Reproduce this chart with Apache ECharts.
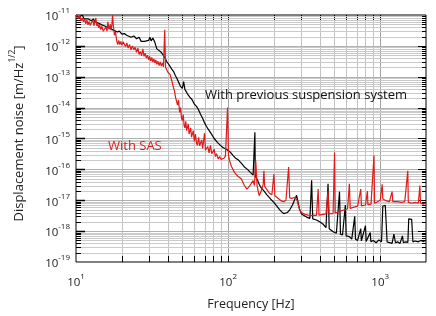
<!DOCTYPE html>
<html>
<head>
<meta charset="utf-8">
<script src="https://cdn.jsdelivr.net/npm/echarts@6/dist/echarts.min.js"></script>
<style>html,body{margin:0;padding:0;background:#fff}#c{width:436px;height:316px}</style>
</head>
<body>
<div id="c"></div>
<script>
// ---- data ----
const xDecades = [10, 100, 1000];
const yDecades = [1e-19, 1e-18, 1e-17, 1e-16, 1e-15, 1e-14, 1e-13, 1e-12, 1e-11];
const minorMult = [2, 3, 4, 5, 6, 7, 8, 9];
const xMin = 10, xMax = 2000, yMin = 1e-19, yMax = 1e-11;

const previousSuspension = [
[10,1e-11],[10.3,8.5e-12],[10.6,9.5e-12],[11,1e-11],[11.3,7.5e-12],[11.6,8.5e-12],[12,7.5e-12],[12.3,8.5e-12],[12.6,6.5e-12],[13,7.5e-12],[13.3,6e-12],[13.6,6.8e-12],[14,5.5e-12],[14.4,6e-12],[14.8,4.8e-12],[15.2,5.4e-12],[15.6,4.3e-12],[16,4.8e-12],[16.5,3.8e-12],[17,4.2e-12],[17.5,3.3e-12],[18,3.5e-12],[18.7,2.8e-12],[19.3,3e-12],[20,2.4e-12],[20.8,2.5e-12],[21.5,2.2e-12],[22,2.4e-12],[23,1.9e-12],[24,2.1e-12],[25,1.7e-12],[26,1.9e-12],[26.8,1.4e-12],[27.5,1.6e-12],[28.2,1.4e-12],[29,1.6e-12],[30,1.5e-12],[30.6,1.9e-12],[31.2,1.45e-12],[32,1.8e-12],[33,1.3e-12],[34,8e-13],[35,9e-13],[36,6.5e-13],[37,5.5e-13],[38,4.5e-13],[39.5,3.1e-13],[41,2.4e-13],[42.5,1.8e-13],[43.7,1.5e-13],[45,1.1e-13],[46.5,8e-14],[48.5,5e-14],[50,4.2e-14],[51,7e-14],[52,3.9e-14],[54,2.8e-14],[56,2.2e-14],[58,1.8e-14],[60,1.3e-14],[62,1.1e-14],[63.5,9e-15],[66,6e-15],[68,4.5e-15],[70,3.2e-15],[72,2.5e-15],[74,2e-15],[77,1.5e-15],[81,1e-15],[85,7.5e-16],[89,6e-16],[93,5e-16],[97.6,4.5e-16],[100,4.2e-16],[104,3.5e-16],[108,2.8e-16],[112,2.3e-16],[117,2e-16],[122,1.6e-16],[128,1.2e-16],[134,1e-16],[140,8e-17],[146,6.5e-17],[149,6e-17],[150,1.6e-15],[151,6e-17],[156,4.5e-17],[160,3.3e-17],[165,2.5e-17],[172,2e-17],[180,1.5e-17],[190,1.1e-17],[200,8.5e-18],[209,6.5e-18],[218,5e-18],[225,4.2e-18],[232,3.7e-18],[245,4e-18],[255,5e-18],[265,7e-18],[275,1.1e-17],[282,1.45e-17],[288,9e-18],[295,5e-18],[305,3.5e-18],[313,3.2e-18],[330,2.8e-18],[345,2.6e-18],[354,4.4e-17],[360,2.5e-18],[381,2.3e-18],[400,2e-18],[420,1.7e-18],[440,1.3e-18],[454,3.4e-17],[462,1.2e-18],[475,1.1e-18],[490,9.5e-19],[515,8.5e-19],[540,1.9e-17],[548,8e-19],[565,7.5e-19],[590,7e-18],[597,7e-19],[610,6.5e-19],[627,6.6e-19],[650,5.5e-19],[680,3e-18],[688,5.5e-19],[710,5e-19],[745,1.2e-18],[752,4.8e-19],[775,5.5e-19],[800,1.5e-18],[808,4.6e-19],[830,5.2e-19],[860,9e-19],[868,4.5e-19],[900,5e-19],[940,4.2e-19],[980,5.2e-19],[1020,4.5e-19],[1040,6.5e-18],[1060,7e-18],[1080,6.8e-18],[1100,7e-18],[1110,4.5e-19],[1140,4e-19],[1197,4e-19],[1230,8e-19],[1260,4.2e-19],[1300,4.5e-19],[1350,4e-19],[1400,7e-19],[1420,4.2e-19],[1470,4.5e-19],[1520,4.3e-19],[1540,2.5e-18],[1570,2.6e-18],[1610,2.4e-18],[1640,4.5e-19],[1700,4.8e-19],[1780,4.5e-19],[1850,5e-19],[1920,4.6e-19],[2000,5e-19]
];

const withSAS = [
[10,9e-12],[10.2,1.1e-11],[10.4,7.5e-12],[10.6,9.5e-12],[10.8,6.5e-12],[11,8e-12],[11.2,6e-12],[11.4,7.4e-12],[11.6,5.2e-12],[11.8,6.8e-12],[12,4.8e-12],[12.2,6.2e-12],[12.4,4.6e-12],[12.7,4.8e-12],[12.9,7e-12],[13.1,4.5e-12],[13.3,5.8e-12],[13.5,8e-12],[13.7,4.4e-12],[13.9,5.5e-12],[14.1,3.8e-12],[14.3,5e-12],[14.5,3.4e-12],[14.8,4.3e-12],[15.1,3e-12],[15.4,2.8e-12],[15.7,4e-12],[16,3e-12],[16.2,6e-12],[16.5,3.4e-12],[16.8,5e-12],[17,3.2e-12],[17.2,4.5e-12],[17.4,1e-11],[17.6,4.5e-12],[17.9,2.2e-12],[18.2,2.8e-12],[18.5,1.5e-12],[18.8,1.1e-12],[19.1,1.5e-12],[19.4,1.1e-12],[19.7,1.4e-12],[20,1.05e-12],[20.4,1.35e-12],[20.8,1.2e-12],[21.2,9.5e-13],[21.6,1.25e-12],[22,8.5e-13],[22.5,1.1e-12],[23,7.5e-13],[23.5,1e-12],[24,7.5e-13],[24.5,9e-13],[25,6.2e-13],[25.5,8.5e-13],[26,5.3e-13],[26.5,6.5e-13],[27,4.8e-13],[27.5,8e-13],[28,4.6e-13],[28.5,5.8e-13],[29,4e-13],[29.5,5e-13],[30,3.5e-13],[30.5,4.6e-13],[31,3.2e-13],[31.5,4.2e-13],[32,3e-13],[32.5,3.8e-13],[33,2.8e-13],[33.5,3.5e-13],[34,2.5e-13],[34.6,3.2e-13],[35.2,2.3e-13],[35.8,3e-13],[36.4,2.2e-13],[37,2.8e-13],[37.6,2.1e-13],[38.3,3.3e-12],[38.8,2e-13],[39.5,1.7e-13],[40.2,1.4e-13],[40.8,1.6e-13],[41.5,1.2e-13],[42.2,1.1e-13],[42.8,7e-14],[43.7,4.5e-14],[44.4,3.5e-14],[45.1,2.2e-14],[45.8,2.4e-14],[46.5,1.2e-14],[47.2,1.8e-14],[48,7e-15],[48.7,1e-14],[49.4,4.5e-15],[50,3.8e-15],[50.7,6e-15],[51.4,2.6e-15],[52,2.2e-15],[52.7,3.6e-15],[53.4,1.8e-15],[54,1.6e-15],[54.7,3e-15],[55.4,1.4e-15],[56,1.3e-15],[56.8,2.2e-15],[57.5,1.1e-15],[58.3,1e-15],[59,1.8e-15],[60,8e-16],[61,1.4e-15],[62,7e-16],[62.8,6e-16],[64,1.1e-15],[65,5.8e-16],[66,5.2e-16],[67,9e-16],[68,4.8e-16],[69,4.6e-16],[70,1.5e-15],[71,4.2e-16],[72.5,3.8e-16],[73.5,5.5e-16],[75,3.4e-16],[76.5,6e-16],[78,3.2e-16],[79.5,2.8e-16],[81,4.5e-16],[82.5,2.6e-16],[84,3.2e-16],[86,2.2e-16],[88,2.6e-16],[90,2.1e-16],[92,2.4e-16],[94,2.3e-16],[96,2.7e-16],[97.6,2.8e-16],[99.2,1e-14],[100.5,3e-16],[102,2e-16],[105,1.26e-16],[110,8e-17],[116,6e-17],[122,5e-17],[128,3e-17],[133,2.3e-17],[138,2.8e-17],[142,3.5e-17],[146,4.3e-17],[149,3e-17],[152,1.9e-16],[155,3e-17],[160,1.4e-17],[165,2e-17],[170,3.2e-17],[172,9e-17],[174,2.8e-17],[180,2.2e-17],[187,1.7e-17],[194,1.5e-17],[200,7e-17],[203,1.4e-17],[209,1.25e-17],[216,1.1e-17],[224,9.5e-18],[232,9e-18],[240,1e-17],[246,1.1e-17],[250,1.2e-16],[254,1.2e-17],[262,1.15e-17],[270,1.2e-17],[276,1.25e-17],[284,1e-17],[292,6e-18],[300,4.2e-18],[310,3.8e-18],[320,3.5e-18],[335,3.3e-18],[350,3.2e-18],[365,3.3e-18],[381,3.2e-18],[391,2.3e-17],[396,3.3e-18],[420,3.5e-18],[440,3.6e-18],[454,2e-17],[460,3.7e-18],[490,3.7e-18],[501,3.5e-16],[506,3.8e-18],[530,4.2e-18],[560,4.6e-18],[590,5e-18],[610,5.2e-18],[627,3.4e-17],[635,5.4e-18],[670,6e-18],[710,6.4e-18],[745,2.3e-17],[752,6.6e-18],[800,7e-18],[824,2e-17],[830,7.2e-18],[870,7.5e-18],[910,2.8e-16],[918,8e-18],[960,9e-18],[1000,1e-17],[1031,3.3e-17],[1040,1.1e-17],[1100,9.5e-18],[1150,9e-18],[1197,1.9e-17],[1210,9e-18],[1300,9e-18],[1380,8.5e-18],[1450,9e-18],[1518,9e-17],[1530,8.5e-18],[1600,8e-18],[1700,8.5e-18],[1780,8e-18],[1824,3e-17],[1840,8e-18],[1920,7.5e-18],[2000,8e-18]
];

// ---- grid values derived from decades ----
const xGrid = [];
xDecades.forEach(d => minorMult.forEach(m => { if (d * m < xMax) xGrid.push({v: d * m, major: false}); }));
xGrid.push({v: 100, major: true}, {v: 1000, major: true});
const yGrid = [];
yDecades.forEach((d, i) => {
  if (i > 0 && i < yDecades.length - 1) yGrid.push({v: d, major: true});
  if (i < yDecades.length - 1) minorMult.forEach(m => yGrid.push({v: d * m, major: false}));
});

const FONT = '"Open Sans", "DejaVu Sans", sans-serif';
const RED = '#e01b1b';
const TXT = '#222';

function supLabel(v) {
  const e = Math.round(Math.log10(v));
  if (Math.abs(Math.log10(v) - e) > 1e-6) return '';
  return '{b|10}{s|' + e + '}';
}
const richSup = {
  b: {fontSize: 11.5, fontFamily: FONT, color: TXT, lineHeight: 16, verticalAlign: 'bottom'},
  s: {fontSize: 8, fontFamily: FONT, color: TXT, lineHeight: 16, verticalAlign: 'top'}
};

function renderGrid(params, api) {
  const cs = params.coordSys;
  const L = cs.x, T = cs.y, R = cs.x + cs.width, B = cs.y + cs.height;
  const ch = [];
  const ln = (x1, y1, x2, y2, c, w) => ch.push({type: 'line', silent: true, shape: {x1, y1, x2, y2}, style: {stroke: c, lineWidth: w}});
  xGrid.forEach(g => {
    const x = Math.round(api.coord([g.v, yMin])[0]) + 0.5;
    ln(x, T, x, B, g.major ? '#a0a0a0' : '#c2c2c2', 1);
    ln(x, B, x, B - 6, '#000', 1);
    ln(x, T, x, T + 5, '#000', 1);
  });
  yGrid.forEach(g => {
    const y = Math.round(api.coord([xMin, g.v])[1]) + 0.5;
    ln(L, y, R, y, g.major ? '#b0b0b0' : '#cacaca', 1);
    ln(L, y, L + (g.major ? 9 : 5), y, '#000', g.major ? 1.5 : 1);
    ln(R, y, R - (g.major ? 8 : 4), y, '#000', 1);
  });
  return {type: 'group', children: ch};
}

const chart = echarts.init(document.getElementById('c'), null, {renderer: 'canvas'});
chart.setOption({
  animation: false,
  backgroundColor: '#fff',
  grid: {left: 69, top: 15, right: 10, bottom: 52, show: true, borderColor: '#000', borderWidth: 1, backgroundColor: 'transparent'},
  xAxis: {
    type: 'log', logBase: 10, min: xMin, max: xMax,
    axisLine: {show: false}, axisTick: {show: false}, splitLine: {show: false}, minorTick: {show: false},
    axisLabel: {formatter: supLabel, rich: richSup, margin: 11, align: 'center', showMaxLabel: false},
    name: 'Frequency [Hz]', nameLocation: 'middle', nameGap: 36,
    nameTextStyle: {fontSize: 12.5, fontFamily: FONT, color: TXT}
  },
  yAxis: {
    type: 'log', logBase: 10, min: yMin, max: yMax,
    axisLine: {show: false}, axisTick: {show: false}, splitLine: {show: false}, minorTick: {show: false},
    axisLabel: {formatter: supLabel, rich: richSup, margin: 6},
    name: '{a|Displacement noise [m/Hz}{s|1/2}{a|]}', nameLocation: 'middle', nameGap: 50, nameRotate: 90,
    nameTextStyle: {padding: [0, 0, 0, 10], rich: {
      a: {fontSize: 13, fontFamily: FONT, color: TXT, lineHeight: 18, verticalAlign: 'bottom'},
      s: {fontSize: 8.5, fontFamily: FONT, color: TXT, lineHeight: 18, verticalAlign: 'top'}
    }}
  },
  graphic: [
    {type: 'text', left: 205, top: 89, z: 10, style: {text: 'With previous suspension system', fill: '#111', font: '13px ' + FONT}},
    {type: 'text', left: 108, top: 140, z: 10, style: {text: 'With SAS', fill: RED, font: '13px ' + FONT}}
  ],
  series: [
    {type: 'custom', coordinateSystem: 'cartesian2d', renderItem: renderGrid, data: [[100, 1e-15]], encode: {x: 0, y: 1}, silent: true, z: 1, clip: false},
    {type: 'line', data: previousSuspension, showSymbol: false, symbol: 'none', lineStyle: {color: '#000', width: 1.2}, z: 3},
    {type: 'line', data: withSAS, showSymbol: false, symbol: 'none', lineStyle: {color: RED, width: 1.2}, z: 4}
  ]
});
</script>
</body>
</html>
